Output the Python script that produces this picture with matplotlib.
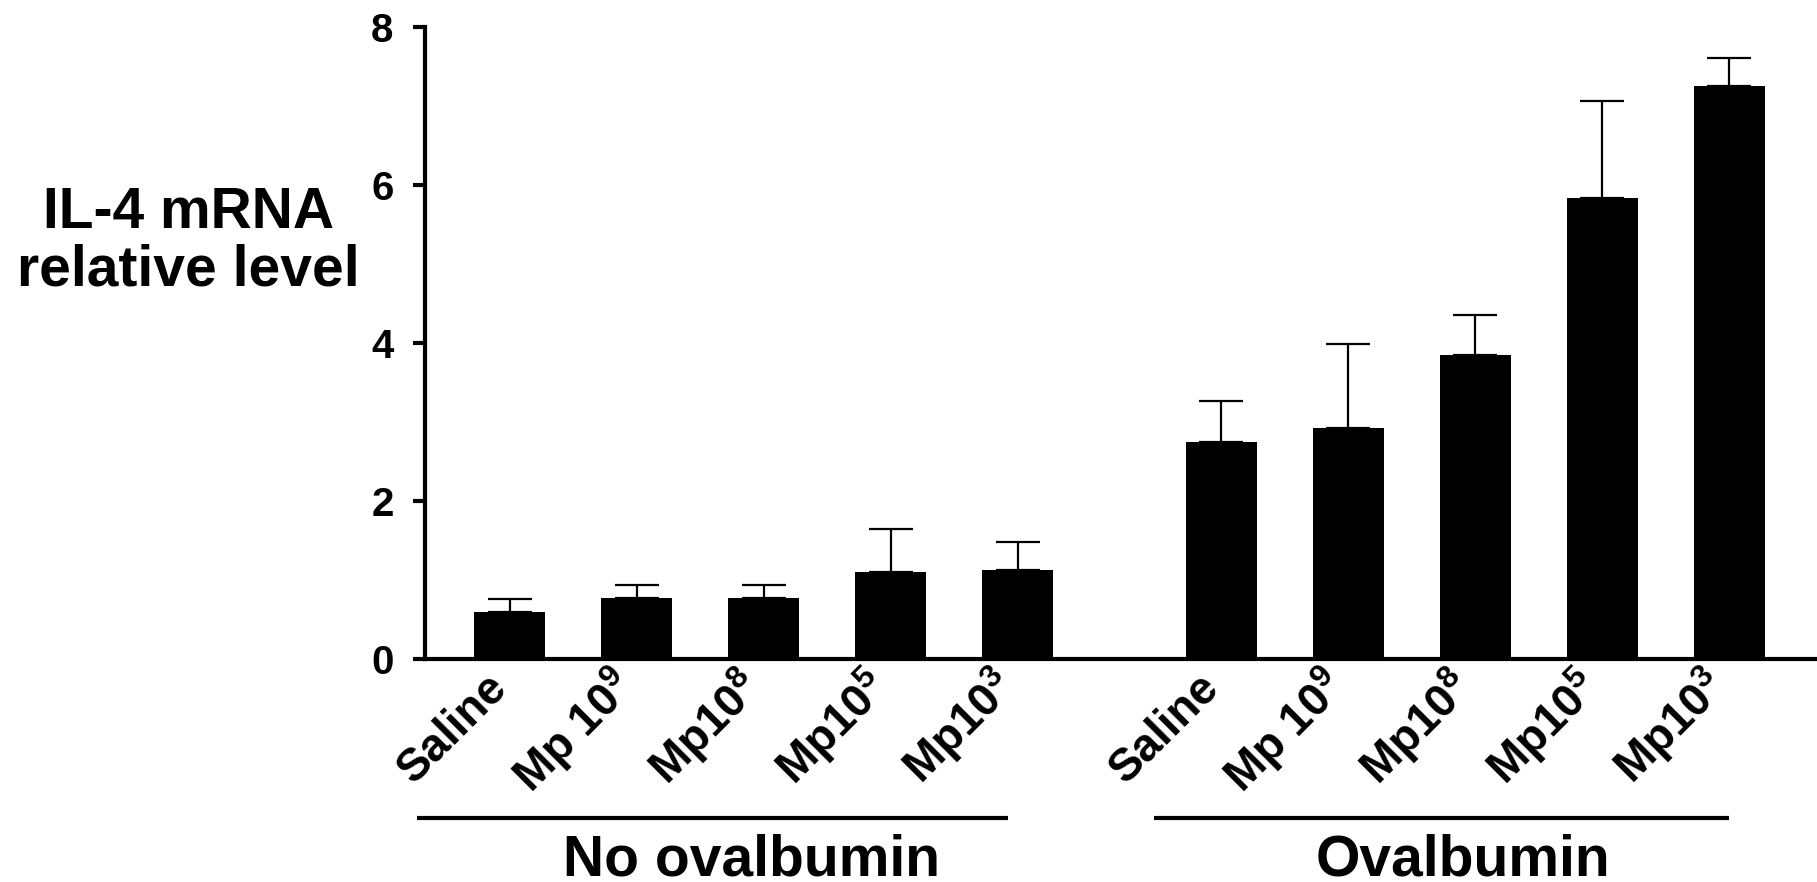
import matplotlib
matplotlib.use("Agg")
import matplotlib.pyplot as plt
import matplotlib.transforms as mtransforms
import numpy as np

plt.rcParams['font.family'] = ['Liberation Sans', 'DejaVu Sans']
plt.rcParams['font.weight'] = 'bold'
plt.rcParams['mathtext.fontset'] = 'custom'
plt.rcParams['mathtext.rm'] = 'Liberation Sans:bold'
plt.rcParams['mathtext.it'] = 'Liberation Sans:bold:italic'
plt.rcParams['mathtext.bf'] = 'Liberation Sans:bold'
plt.rcParams['mathtext.default'] = 'rm'

# Treatment groups and doses
groups = ["No ovalbumin", "Ovalbumin"]
doses = ["Saline", "Mp 10$^{9}$", "Mp10$^{8}$", "Mp10$^{5}$", "Mp10$^{3}$"]

# IL-4 mRNA relative level (mean) and upper error (SEM)
mean_no_ova = [0.60, 0.77, 0.77, 1.10, 1.13]
err_no_ova = [0.16, 0.17, 0.17, 0.55, 0.35]
mean_ova = [2.75, 2.92, 3.85, 5.83, 7.25]
err_ova = [0.52, 1.07, 0.51, 1.23, 0.36]

yticks = [0, 2, 4, 6, 8]

fig = plt.figure(figsize=(18.17, 8.82), dpi=100)
ax = fig.add_axes([0.2339, 0.2528, 0.7661, 0.7166])

group_gap = 5.6
bar_w = 0.56
means = [mean_no_ova, mean_ova]
errs = [err_no_ova, err_ova]

positions = []
for g in range(len(groups)):
    pos = g * group_gap + np.arange(len(doses))
    positions.append(pos)
    ax.bar(pos, means[g], width=bar_w, color='black', edgecolor='black',
           linewidth=0, zorder=2)
    ax.errorbar(pos, means[g], yerr=[np.zeros(len(pos)), errs[g]],
                fmt='none', ecolor='black', elinewidth=1.6, capsize=15.5,
                capthick=1.6, zorder=1)

all_pos = np.concatenate(positions)
ax.set_xticks(all_pos)
ax.set_xticklabels(doses * len(groups), rotation=45, ha='right',
                   rotation_mode='anchor', va='baseline', fontsize=33,
                   fontweight='bold')
ax.tick_params(axis='x', length=0, pad=22)

ax.set_ylim(0, 8)
ax.set_xlim(-0.666, 10.29)
ax.set_yticks(yticks)
ax.set_yticklabels([str(t) for t in yticks], fontsize=29, fontweight='bold')
ax.tick_params(axis='y', length=8.6, width=3, pad=14)

for side in ['top', 'right']:
    ax.spines[side].set_visible(False)
for side in ['left', 'bottom']:
    ax.spines[side].set_linewidth(3)

# Group brackets and captions below the tick labels
trans = mtransforms.blended_transform_factory(ax.transData, ax.transAxes)
line_ext = [(-0.73, -0.08), (-0.53, 0.0)]
for g, name in enumerate(groups):
    pos = positions[g]
    x0 = pos[0] + line_ext[g][0]
    x1 = pos[-1] + line_ext[g][1]
    ax.plot([x0, x1], [-0.2516, -0.2516], color='black', linewidth=3,
            transform=trans, clip_on=False, solid_capstyle='butt')
    ax.text(pos.mean() - 0.1, -0.342, name, transform=trans, ha='center',
            va='baseline', fontsize=41, fontweight='bold')

fig.text(188 / 1817, 1 - 285 / 882, "IL-4 mRNA\nrelative level",
         ha='center', va='baseline', fontsize=41, fontweight='bold',
         linespacing=1.08)

fig.savefig("out.png", dpi=100)
